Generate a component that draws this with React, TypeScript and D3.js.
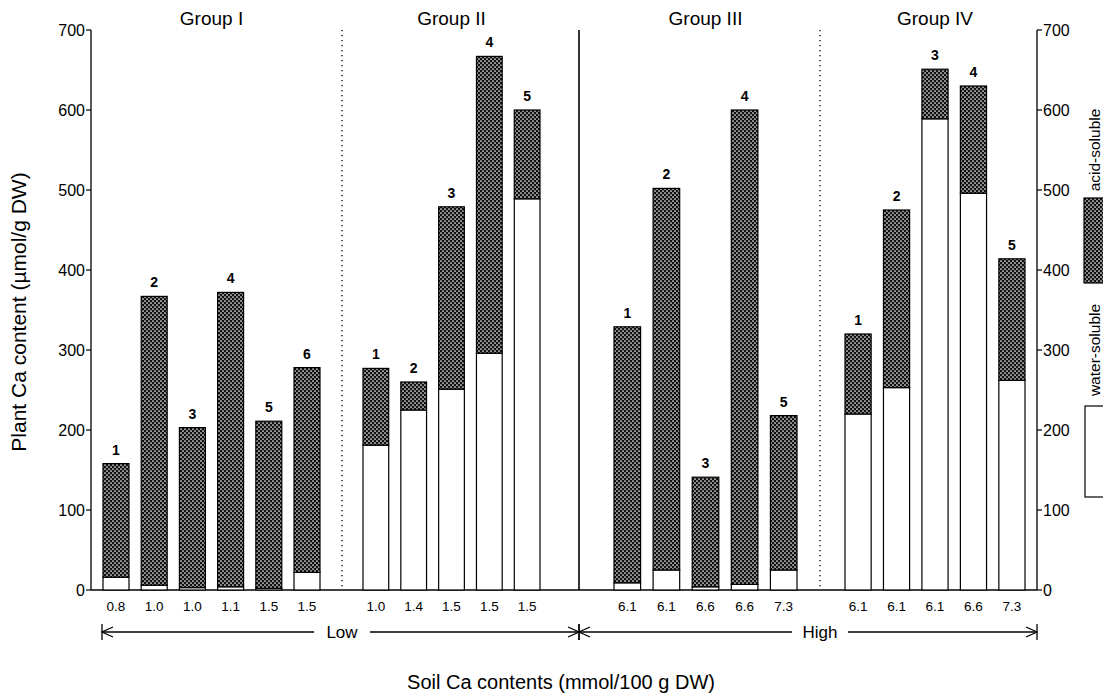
import * as d3 from "d3";

// group / bar data
const groupNames = ["Group I", "Group II", "Group III", "Group IV"];
const barGroup = [0, 0, 0, 0, 0, 0, 1, 1, 1, 1, 1, 2, 2, 2, 2, 2, 3, 3, 3, 3, 3];
const barNumber = ["1", "2", "3", "4", "5", "6", "1", "2", "3", "4", "5", "1", "2", "3", "4", "5", "1", "2", "3", "4", "5"];
const soilCa = ["0.8", "1.0", "1.0", "1.1", "1.5", "1.5", "1.0", "1.4", "1.5", "1.5", "1.5", "6.1", "6.1", "6.6", "6.6", "7.3", "6.1", "6.1", "6.1", "6.6", "7.3"];
const waterSoluble = [16, 6, 3, 4, 2, 22, 181, 225, 251, 296, 489, 9, 25, 4, 7, 25, 220, 253, 589, 496, 262];
const totalCa = [158, 367, 203, 372, 211, 278, 277, 260, 479, 667, 600, 329, 502, 141, 600, 218, 320, 475, 651, 630, 414];
const yTicks = [0, 100, 200, 300, 400, 500, 600, 700];
const soilLevels = ["Low", "High"];

const W = 1103;
const H = 696;
const left = 91;
const right = 1037;
const top = 30;
const bottom = 590;
// separators between groups (x), and bar extents inside each group
const dividers = [342, 579, 820];
const groupBarRange = [
  [103, 320],
  [363, 540],
  [614, 797],
  [845, 1025],
];
const font = "'Liberation Sans', Arial, Helvetica, sans-serif";

export default function App() {
  const y = d3.scaleLinear().domain([0, 700]).range([bottom, top]);

  const bands = groupNames.map((_, g) => {
    const idx = barGroup.map((gg, i) => (gg === g ? i : -1)).filter((i) => i >= 0);
    return d3.scaleBand<number>().domain(idx).range(groupBarRange[g]).paddingInner(0.32).paddingOuter(0);
  });
  const bx = (i: number) => bands[barGroup[i]](i) as number;
  const bw = (i: number) => bands[barGroup[i]].bandwidth();

  const rows = totalCa.map((t, i) => ({ water: waterSoluble[i], acid: t - waterSoluble[i] }));
  const series = d3.stack<any>().keys(["water", "acid"])(rows);

  const groupCenter = (g: number) => {
    const d = bands[g].domain();
    const a = bx(d[0]) + bw(d[0]) / 2;
    const b = bx(d[d.length - 1]) + bw(d[d.length - 1]) / 2;
    return (a + b) / 2;
  };

  const arrowY = 632;
  const lowRange = [left + 11, dividers[1]];
  const highRange = [dividers[1], right];

  const arrowHead = (x: number, dir: number) =>
    `M${x + dir * 11},${arrowY - 5}L${x},${arrowY}L${x + dir * 11},${arrowY + 5}`;

  return (
    <svg
      width={W}
      height={H}
      viewBox={`0 0 ${W} ${H}`}
      style={{ position: "absolute", left: 0, top: 0, background: "#fff" }}
      fontFamily={font}
    >
      <defs>
        <pattern id="dots" width="4" height="4" patternUnits="userSpaceOnUse">
          <rect width="4" height="4" fill="#111" />
          <circle cx="1" cy="1" r="0.85" fill="#fff" />
          <circle cx="3" cy="3" r="0.85" fill="#fff" />
        </pattern>
      </defs>

      {/* left axis */}
      <line x1={left} x2={left} y1={y(700)} y2={y(0)} stroke="#000" strokeWidth={1.3} />
      {yTicks.map((t) => (
        <g key={"l" + t}>
          <line x1={left - 5} x2={left} y1={y(t)} y2={y(t)} stroke="#000" strokeWidth={1.2} />
          <text x={left - 6} y={y(t)} dy="0.35em" textAnchor="end" fontSize={16}>
            {t}
          </text>
        </g>
      ))}

      {/* right axis */}
      <line x1={right} x2={right} y1={y(700)} y2={y(0)} stroke="#000" strokeWidth={1.3} />
      {yTicks.map((t) => (
        <g key={"r" + t}>
          <line x1={right} x2={right + 5} y1={y(t)} y2={y(t)} stroke="#000" strokeWidth={1.2} />
          <text x={right + 6} y={y(t)} dy="0.35em" textAnchor="start" fontSize={16}>
            {t}
          </text>
        </g>
      ))}

      {/* baseline */}
      <line x1={left} x2={right} y1={y(0)} y2={y(0)} stroke="#000" strokeWidth={1.3} />

      {/* group separators */}
      {dividers.map((d, i) => (
        <line
          key={"d" + i}
          x1={d}
          x2={d}
          y1={y(700)}
          y2={y(0)}
          stroke="#000"
          strokeWidth={i === 1 ? 1.6 : 1.3}
          strokeDasharray={i === 1 ? undefined : "1.3,3.7"}
        />
      ))}

      {/* stacked bars */}
      {series.map((s) =>
        s.map((d, i) => (
          <rect
            key={s.key + i}
            x={bx(i)}
            y={y(d[1])}
            width={bw(i)}
            height={y(d[0]) - y(d[1])}
            fill={s.key === "acid" ? "url(#dots)" : "#fff"}
            stroke="#000"
            strokeWidth={1.2}
          />
        ))
      )}

      {/* bar numbers */}
      {totalCa.map((t, i) => (
        <text
          key={"n" + i}
          x={bx(i) + bw(i) / 2}
          y={y(t) - 9}
          textAnchor="middle"
          fontSize={14}
          fontWeight="bold"
        >
          {barNumber[i]}
        </text>
      ))}

      {/* soil Ca labels */}
      {soilCa.map((s, i) => (
        <text key={"s" + i} x={bx(i) + bw(i) / 2} y={y(0) + 21} textAnchor="middle" fontSize={13.5}>
          {s}
        </text>
      ))}

      {/* group titles */}
      {groupNames.map((g, i) => (
        <text key={g} x={groupCenter(i)} y={25} textAnchor="middle" fontSize={19}>
          {g}
        </text>
      ))}

      {/* low / high arrows */}
      {[lowRange, highRange].map((r, k) => (
        <g key={"a" + k} stroke="#000" strokeWidth={1.3} fill="none">
          <line x1={r[0]} x2={r[1]} y1={arrowY} y2={arrowY} />
          <path d={arrowHead(r[0], 1)} />
          <path d={arrowHead(r[1], -1)} />
          <line x1={r[0]} x2={r[0]} y1={arrowY - 8} y2={arrowY + 8} />
          <line x1={r[1]} x2={r[1]} y1={arrowY - 8} y2={arrowY + 8} />
        </g>
      ))}
      {soilLevels.map((lv, k) => {
        const cx = dividers[k * 2];
        return (
          <g key={lv}>
            <rect x={cx - 28} y={arrowY - 10} width={56} height={20} fill="#fff" />
            <text x={cx} y={arrowY} dy="0.35em" textAnchor="middle" fontSize={17}>
              {lv}
            </text>
          </g>
        );
      })}

      {/* axis titles */}
      <text
        transform={`translate(26,${(y(0) + y(700)) / 2 + 2}) rotate(-90)`}
        textAnchor="middle"
        fontSize={21}
      >
        Plant Ca content (µmol/g DW)
      </text>
      <text x={561} y={689} textAnchor="middle" fontSize={20}>
        Soil Ca contents (mmol/100 g DW)
      </text>

      {/* legend (cut by the right edge) */}
      <text transform={`translate(1100,150) rotate(-90)`} textAnchor="middle" fontSize={15.5}>
        acid-soluble
      </text>
      <rect x={1084} y={198} width={30} height={85} fill="url(#dots)" stroke="#000" strokeWidth={1.2} />
      <text transform={`translate(1100,350) rotate(-90)`} textAnchor="middle" fontSize={15.5}>
        water-soluble
      </text>
      <rect x={1085} y={406} width={30} height={91} fill="#fff" stroke="#000" strokeWidth={1.2} />
    </svg>
  );
}
